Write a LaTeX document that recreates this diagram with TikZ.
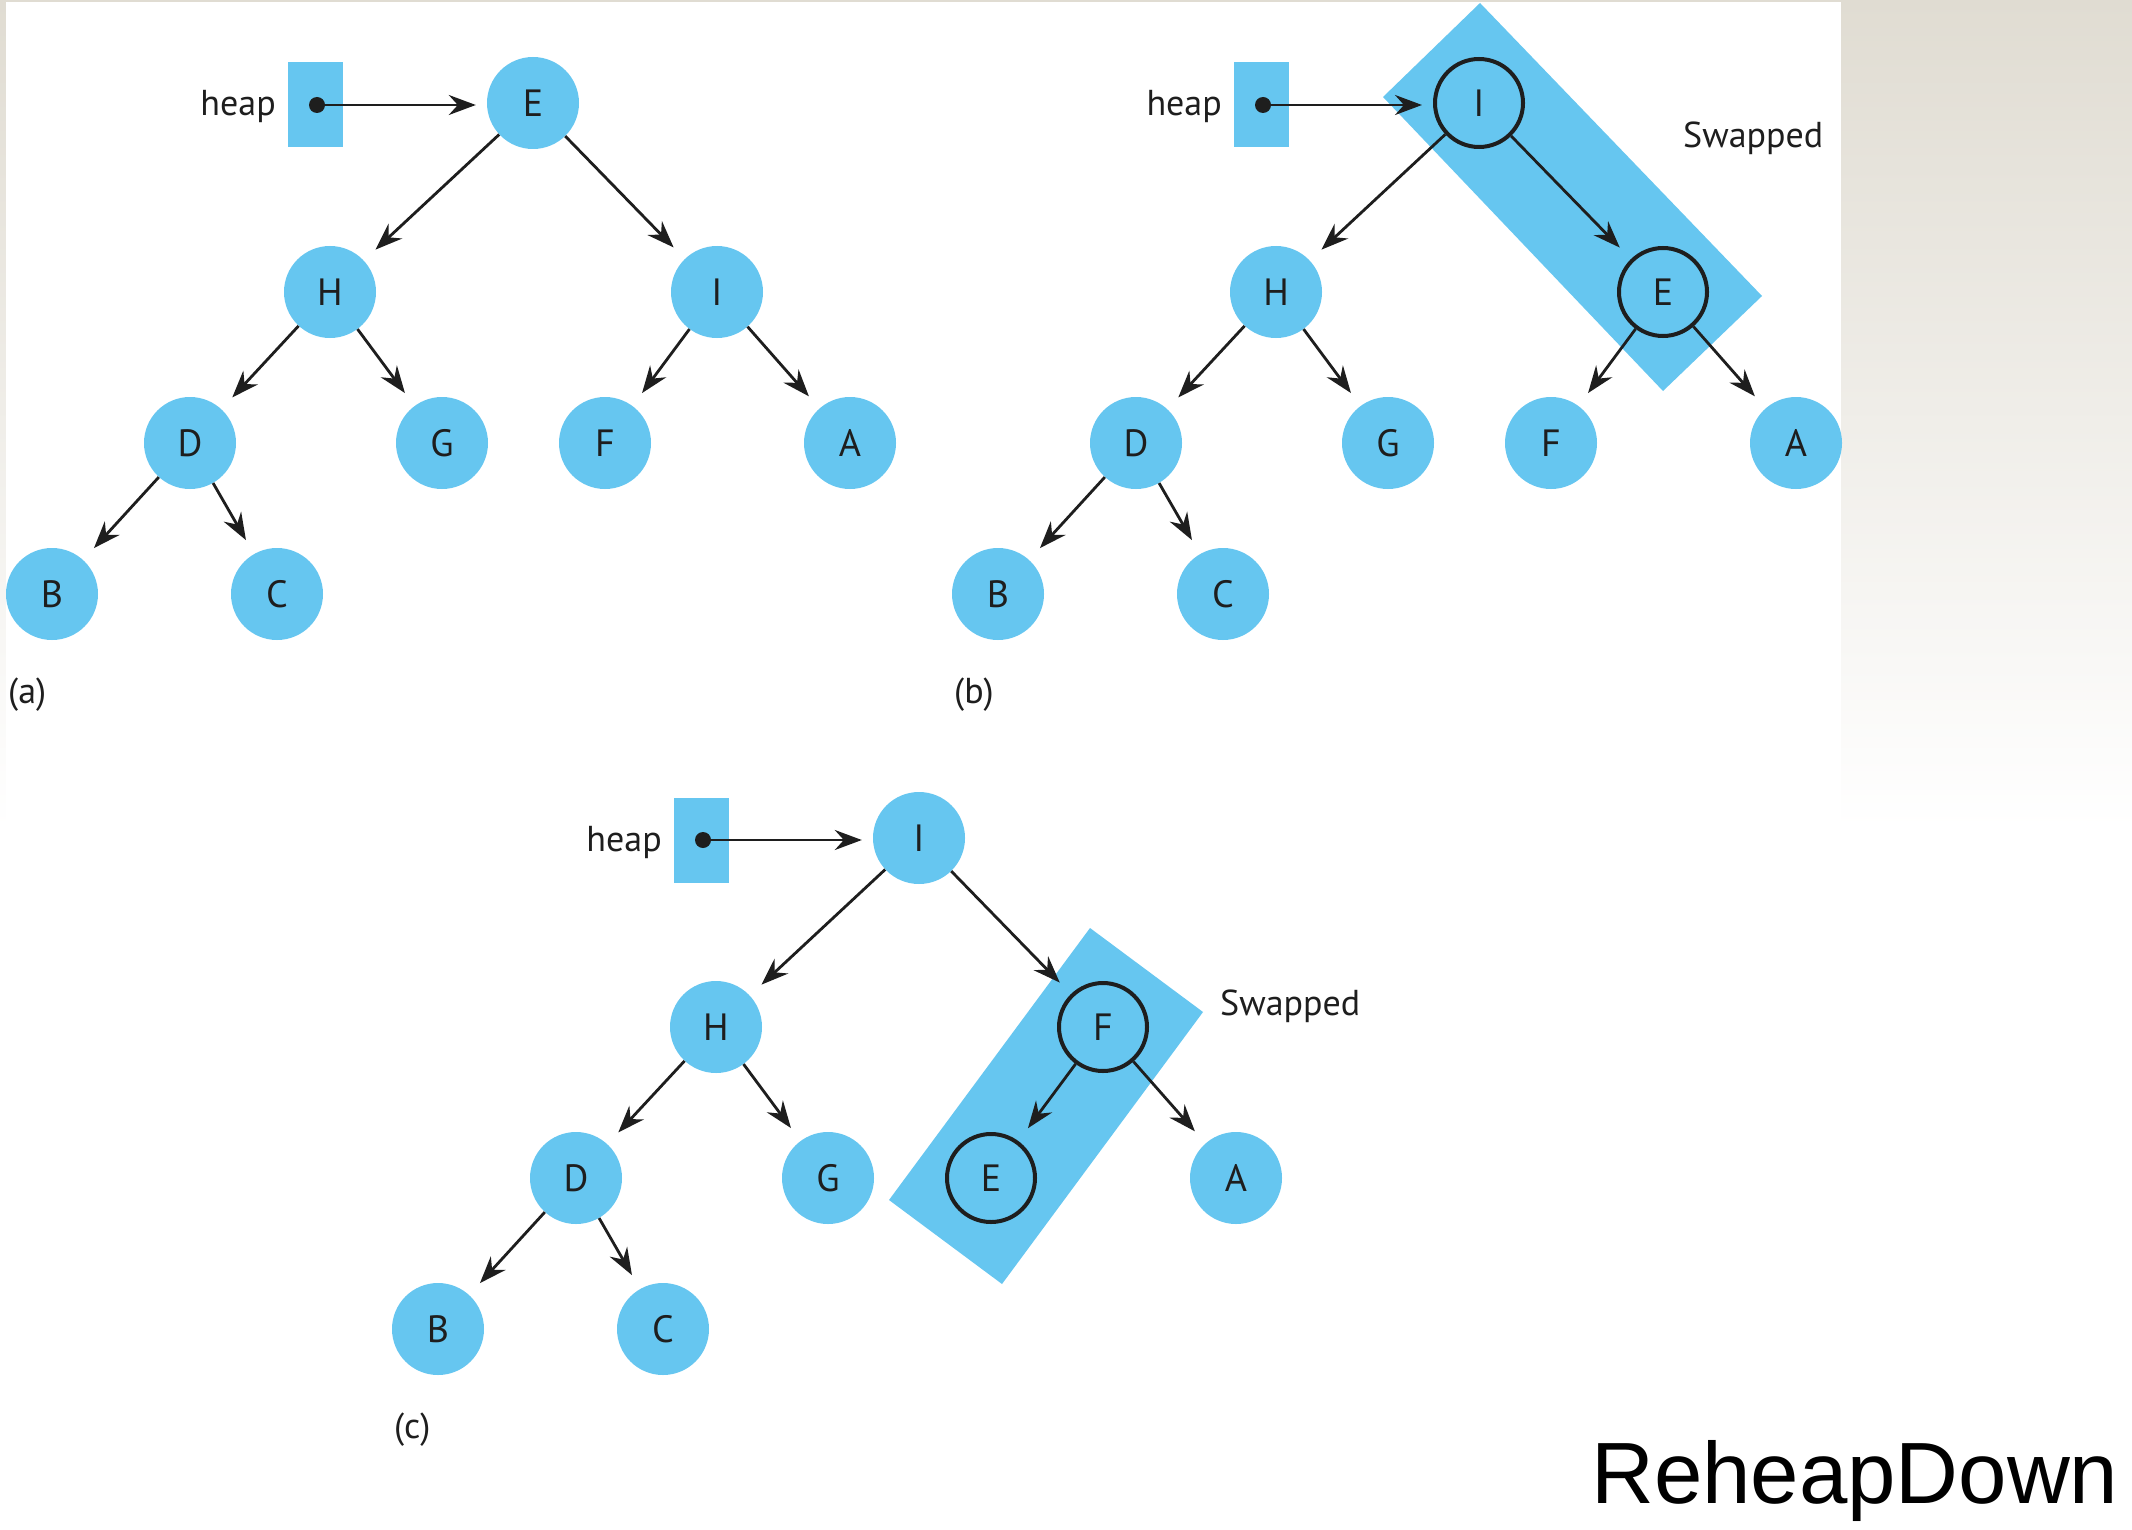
\documentclass[tikz,border=0pt]{standalone}
\usepackage{fontspec}
\setmainfont{PT Sans}
\newfontfamily\arialfont{Liberation Sans}
\usetikzlibrary{arrows.meta}
\definecolor{nodeblue}{RGB}{102,198,240}
\definecolor{bgbeige}{RGB}{224,220,210}
\definecolor{inkblack}{RGB}{30,30,30}
\begin{document}
\begin{tikzpicture}[x=1pt,y=-1pt,
  hnode/.style={circle,fill=nodeblue,minimum size=92pt,inner sep=0pt,text=inkblack,font=\fontsize{38}{40}\selectfont},
  swnode/.style={hnode,draw=inkblack,line width=4pt,minimum size=88pt},
  arr/.style={draw=inkblack,line width=2.8pt,-{Stealth[length=27pt,width=20pt,inset=9pt]},shorten >=16pt},
  heaparr/.style={arr,shorten >=11pt},
  heapbox/.style={rectangle,fill=nodeblue,minimum width=55pt,minimum height=85pt,inner sep=0pt},
  heapdot/.style={circle,fill=inkblack,minimum size=16pt,inner sep=0pt},
  lbl/.style={font=\fontsize{36}{38}\selectfont,inner sep=0pt,text=inkblack},
  swaprect/.style={fill=nodeblue}]
\useasboundingbox (0,0) rectangle (2132,1530);
\fill[white] (0,0) rectangle (2132,1530);
\shade[top color=bgbeige,bottom color=white] (0,0) rectangle (2132,830);
\fill[white] (6,2) rectangle (1841,828);

% ---------- (a) ----------
\node[heapbox] (aBox) at (315,105) {};
\node[heapdot] (aDot) at (317,105) {};
\node[lbl,anchor=base east] (aHeap) at (276,116) {heap};
\node[hnode] (aE) at (533,103) {E};
\node[hnode] (aH) at (330,292) {H};
\node[hnode] (aI) at (717,292) {I};
\node[hnode] (aD) at (190,443) {D};
\node[hnode] (aG) at (442,443) {G};
\node[hnode] (aF) at (605,443) {F};
\node[hnode] (aA) at (850,443) {A};
\node[hnode] (aB) at (52,594) {B};
\node[hnode] (aC) at (277,594) {C};
\node[lbl,anchor=west] (aLbl) at (8,695) {(a)};
\draw[heaparr] (aDot.center) -- (aDot.center -| aE.west);
\draw[arr] (aE) -- (aH);
\draw[arr] (aE) -- (aI);
\draw[arr] (aH) -- (aD);
\draw[arr] (aH) -- (aG);
\draw[arr] (aI) -- (aF);
\draw[arr] (aI) -- (aA);
\draw[arr] (aD) -- (aB);
\draw[arr] (aD) -- (aC);

% ---------- (b) ----------
\fill[swaprect] (1480,3) -- (1762,296) -- (1663,391) -- (1383,97) -- cycle;
\begin{scope}[shift={(946,0)}]
\node[heapbox] (bBox) at (315,105) {};
\node[heapdot] (bDot) at (317,105) {};
\node[lbl,anchor=base east] (bHeap) at (276,116) {heap};
\node[swnode] (bI) at (533,103) {I};
\node[hnode] (bH) at (330,292) {H};
\node[swnode] (bE) at (717,292) {E};
\node[hnode] (bD) at (190,443) {D};
\node[hnode] (bG) at (442,443) {G};
\node[hnode] (bF) at (605,443) {F};
\node[hnode] (bA) at (850,443) {A};
\node[hnode] (bB) at (52,594) {B};
\node[hnode] (bC) at (277,594) {C};
\node[lbl,anchor=west] (bLbl) at (8,695) {(b)};
\end{scope}
\node[lbl,anchor=base west] (bSw) at (1683,148) {Swapped};
\draw[heaparr] (bDot.center) -- (bDot.center -| bI.west);
\draw[arr] (bI) -- (bH);
\draw[arr] (bI) -- (bE);
\draw[arr] (bH) -- (bD);
\draw[arr] (bH) -- (bG);
\draw[arr] (bE) -- (bF);
\draw[arr] (bE) -- (bA);
\draw[arr] (bD) -- (bB);
\draw[arr] (bD) -- (bC);

% ---------- (c) ----------
\fill[swaprect] (1090,928) -- (1203,1012) -- (1002,1284) -- (889,1200) -- cycle;
\begin{scope}[shift={(386,735)}]
\node[heapbox] (cBox) at (315,105) {};
\node[heapdot] (cDot) at (317,105) {};
\node[lbl,anchor=base east] (cHeap) at (276,116) {heap};
\node[hnode] (cI) at (533,103) {I};
\node[hnode] (cH) at (330,292) {H};
\node[swnode] (cF) at (717,292) {F};
\node[hnode] (cD) at (190,443) {D};
\node[hnode] (cG) at (442,443) {G};
\node[swnode] (cE) at (605,443) {E};
\node[hnode] (cA) at (850,443) {A};
\node[hnode] (cB) at (52,594) {B};
\node[hnode] (cC) at (277,594) {C};
\node[lbl,anchor=west] (cLbl) at (8,695) {(c)};
\end{scope}
\node[lbl,anchor=base west] (cSw) at (1220,1015) {Swapped};
\draw[heaparr] (cDot.center) -- (cDot.center -| cI.west);
\draw[arr] (cI) -- (cH);
\draw[arr] (cI) -- (cF);
\draw[arr] (cH) -- (cD);
\draw[arr] (cH) -- (cG);
\draw[arr] (cF) -- (cE);
\draw[arr] (cF) -- (cA);
\draw[arr] (cD) -- (cB);
\draw[arr] (cD) -- (cC);

% ---------- title ----------
\node[font=\arialfont\fontsize{87}{90}\selectfont,anchor=base west,inner sep=0pt] (title) at (1591,1503) {ReheapDown};
\end{tikzpicture}
\end{document}
